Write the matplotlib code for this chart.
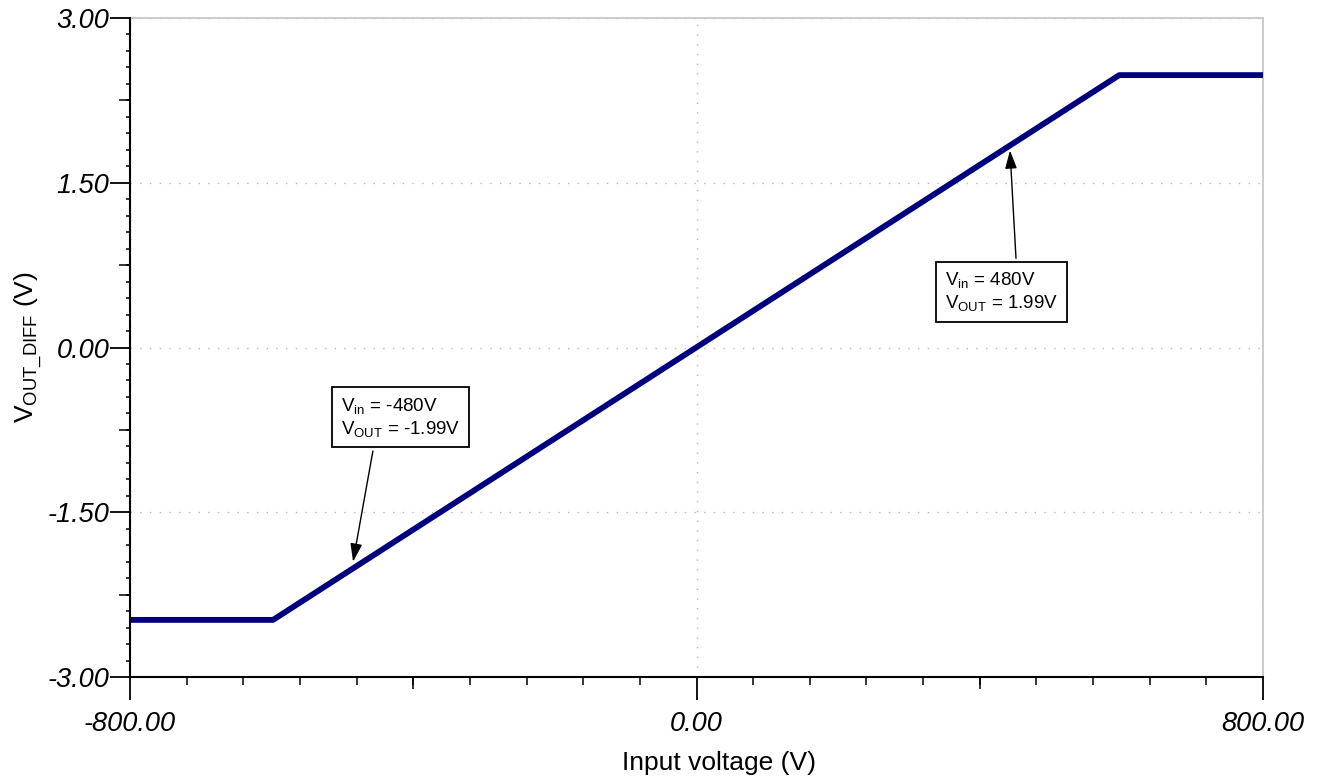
import matplotlib
matplotlib.use("Agg")
import matplotlib.pyplot as plt
from matplotlib.ticker import MultipleLocator, FixedLocator

plt.rcParams['font.family'] = ['Liberation Sans', 'DejaVu Sans']
plt.rcParams['mathtext.fontset'] = 'custom'
plt.rcParams['mathtext.rm'] = 'Liberation Sans'
plt.rcParams['mathtext.it'] = 'Liberation Sans:italic'

# Data (breakpoints of the transfer curve)
vin = [-800, -598, 597, 800]
vout = [-2.48, -2.48, 2.48, 2.48]

x_major = [-800, 0, 800]
x_labels = ["-800.00", "0.00", "800.00"]
y_major = [-3.0, -1.5, 0.0, 1.5, 3.0]
y_labels = ["-3.00", "-1.50", "0.00", "1.50", "3.00"]

ann_neg_text = "V$_{\\mathrm{in}}$ = -480V\nV$_{\\mathrm{OUT}}$ = -1.99V"
ann_pos_text = "V$_{\\mathrm{in}}$ = 480V\nV$_{\\mathrm{OUT}}$ = 1.99V"

fig = plt.figure(figsize=(13.18, 7.81), dpi=100)
ax = fig.add_axes([130/1318, 1-677/781, 1133/1318, 659/781])

ax.plot(vin, vout, color='#00007f', lw=4.2, solid_capstyle='round', zorder=3)

ax.set_xlim(-800, 800)
ax.set_ylim(-3, 3)

ax.set_xticks(x_major)
ax.set_xticklabels(x_labels, fontsize=19.5, style='italic')
ax.set_yticks(y_major)
ax.set_yticklabels(y_labels, fontsize=19.5, style='italic')
ax.xaxis.set_minor_locator(MultipleLocator(80))
ax.yaxis.set_minor_locator(MultipleLocator(0.15))

ax.tick_params(axis='x', which='major', length=16.5, width=1.3, pad=8, color='black')
ax.tick_params(axis='x', which='minor', length=5.8, width=1.1)
ax.tick_params(axis='y', which='major', length=14.4, width=1.3, pad=0.5)
ax.tick_params(axis='y', which='minor', length=3.0, width=1.1)

# medium ticks
secx = ax.secondary_xaxis('bottom')
secx.set_xticks([-400, 400])
secx.tick_params(length=8.6, width=1.1, labelbottom=False)
for s in secx.spines.values():
    s.set_visible(False)
secy = ax.secondary_yaxis('left')
secy.set_yticks([2.25, 0.75, -0.75, -2.25])
secy.tick_params(length=8.0, width=1.1, labelleft=False)
for s in secy.spines.values():
    s.set_visible(False)

ax.grid(True, which='major', color='#b8b8b8', lw=1.0, linestyle=(0, (1, 6)))

for side in ['left', 'bottom']:
    ax.spines[side].set_linewidth(1.5)
    ax.spines[side].set_color('black')
    ax.spines[side].set_zorder(4)
for side in ['top', 'right']:
    ax.spines[side].set_linewidth(1.3)
    ax.spines[side].set_color('#c8c8c8')

ax.set_xlabel("Input voltage (V)", fontsize=19)
ax.xaxis.set_label_coords(0.52, -0.113)
ax.set_ylabel("V$_{\\mathrm{OUT\\_DIFF}}$ (V)", fontsize=19)
ax.yaxis.set_label_coords(-0.075, 0.5)

box = dict(boxstyle='square,pad=0.45', facecolor='white', edgecolor='black', lw=1.3)
ax.text(-418, -0.634, ann_neg_text, fontsize=13.5, ha='center', va='center', ma='left', bbox=box, zorder=5)
ax.text(430.7, 0.507, ann_pos_text, fontsize=13.5, ha='center', va='center', ma='left', bbox=box, zorder=5)

arrow = dict(arrowstyle='-|>,head_length=0.55,head_width=0.18', color='black', lw=1.0,
             mutation_scale=20, shrinkA=0, shrinkB=0)
ax.annotate("", xy=(-485, -1.95), xytext=(-457, -0.943), arrowprops=arrow, zorder=5)
ax.annotate("", xy=(442.7, 1.794), xytext=(451.2, 0.812), arrowprops=arrow, zorder=5)

fig.savefig("out.png", dpi=100)
